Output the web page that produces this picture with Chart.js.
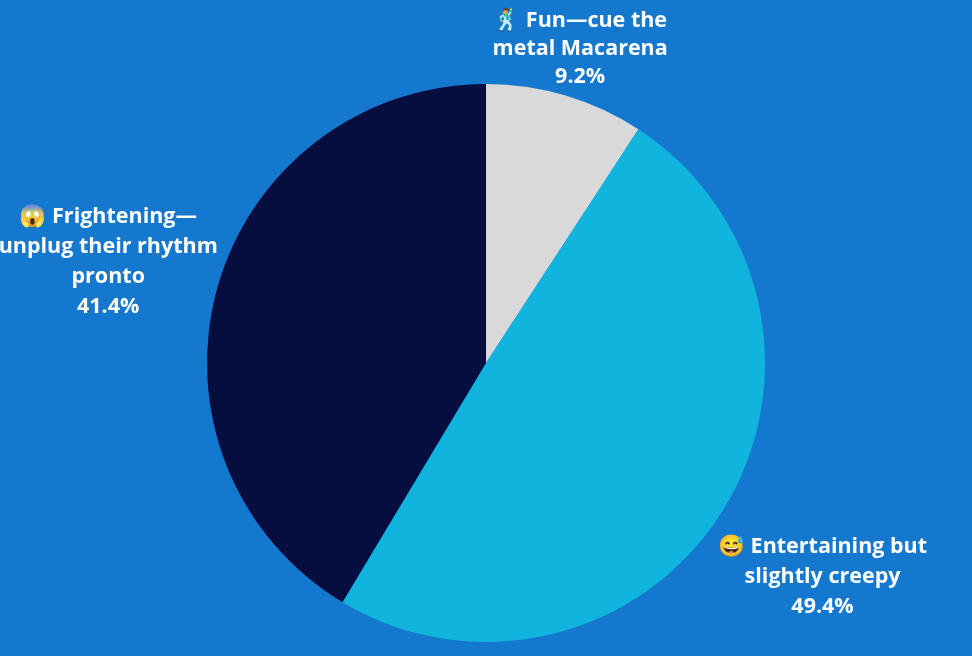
<!DOCTYPE html>
<html>
<head>
<meta charset="utf-8">
<title>Pie chart</title>
<script src="https://cdn.jsdelivr.net/npm/chart.js@4"></script>
<style>
  html, body { margin: 0; padding: 0; background: #1578CF; }
  #wrap { width: 972px; height: 656px; }
</style>
</head>
<body>
<div id="wrap"><canvas id="pie"></canvas></div>
<script>
const categories = [
    ['🕺 Fun—cue the', 'metal Macarena'],
    ['😅 Entertaining but', 'slightly creepy'],
    ['😱 Frightening—', 'unplug their rhythm', 'pronto']
];
const shares = [9.2, 49.4, 41.4];
const sliceColors = ['#D9D9D9', '#10B4DD', '#060D3F'];

// distance of each label block from the pie centre, in radii
const labelDistance = [1.184, 1.423, 1.405];
const labelLineHeight = [28, 30, 30];

const sliceLabels = {
    id: 'sliceLabels',
    afterDatasetsDraw(chart) {
        const ctx = chart.ctx;
        ctx.save();
        ctx.font = '700 21.5px "Open Sans"';
        ctx.fillStyle = '#FFFFFF';
        ctx.textAlign = 'center';
        ctx.textBaseline = 'middle';
        chart.getDatasetMeta(0).data.forEach((arc, i) => {
            const mid = (arc.startAngle + arc.endAngle) / 2;
            const r = arc.outerRadius * labelDistance[i];
            const x = arc.x + Math.cos(mid) * r;
            const y = arc.y + Math.sin(mid) * r + 3;
            const lines = [...categories[i], shares[i].toFixed(1) + '%'];
            lines.forEach((line, n) => {
                ctx.fillText(line, x, y + (n - (lines.length - 1) / 2) * labelLineHeight[i]);
            });
        });
        ctx.restore();
    }
};

new Chart(document.getElementById('pie'), {
    type: 'pie',
    data: {
        labels: categories.map(c => c.join(' ')),
        datasets: [{
            data: shares,
            backgroundColor: sliceColors,
            borderWidth: 0
        }]
    },
    options: {
        responsive: true,
        maintainAspectRatio: false,
        animation: false,
        layout: { padding: { top: 84, bottom: 14 } },
        plugins: {
            legend: { display: false },
            tooltip: { enabled: false }
        }
    },
    plugins: [sliceLabels]
});
</script>
</body>
</html>
